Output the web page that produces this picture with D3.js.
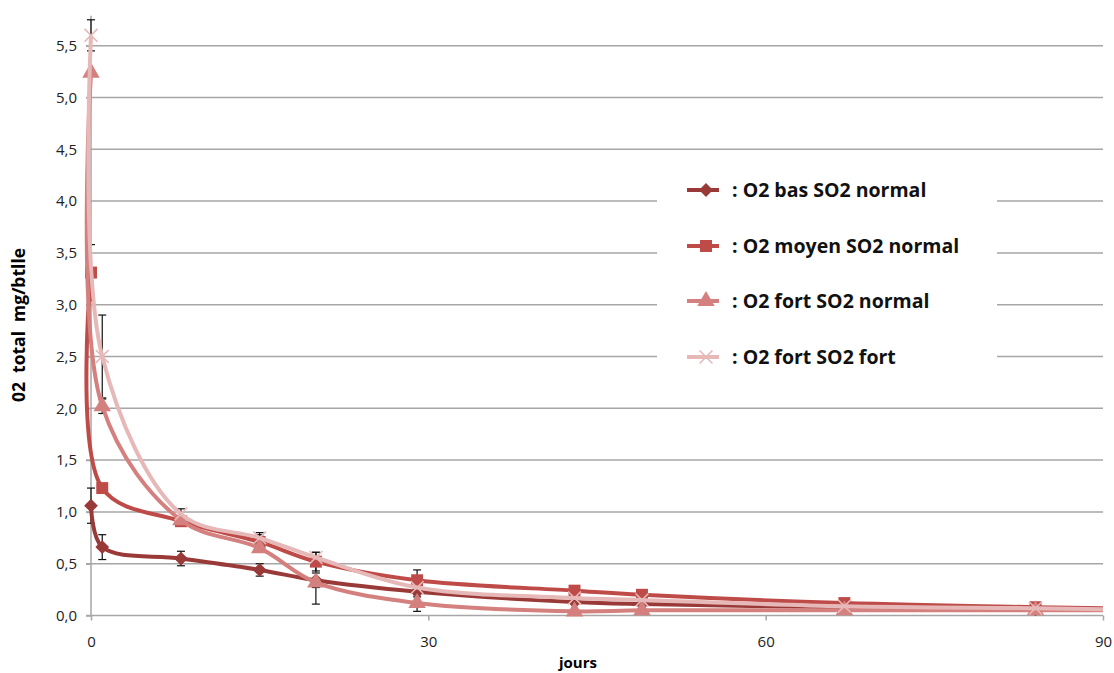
<!DOCTYPE html>
<html>
<head>
<meta charset="utf-8">
<script src="https://cdn.jsdelivr.net/npm/d3@7"></script>
<style>
  body { margin: 0; background: #fff; }
  text { font-family: "Open Sans", "Liberation Sans", sans-serif; }
</style>
</head>
<body>
<script>
const WIDTH = 1114
const HEIGHT = 673

// jours de mesure (le dernier point = bord droit, sans marqueur)
const jours = [0, 1, 8, 15, 20, 29, 43, 49, 67, 84, 90]

const seriesNames = [": O2 bas SO2 normal", ": O2 moyen SO2 normal", ": O2 fort SO2 normal", ": O2 fort SO2 fort"]
const seriesColors = ["#9a3a38", "#bf4b48", "#d4807e", "#e6b8b7"]
const seriesSymbols = ["diamond", "square", "triangle", "cross"]

const o2Bas    = [1.06, 0.66, 0.55, 0.44, 0.34, 0.23, 0.13, 0.11, 0.08, 0.06, 0.06]
const o2Moyen  = [3.31, 1.23, 0.91, 0.71, 0.52, 0.34, 0.24, 0.20, 0.12, 0.08, 0.07]
const o2Fort   = [5.24, 2.02, 0.92, 0.65, 0.32, 0.12, 0.04, 0.05, 0.05, 0.05, 0.05]
const o2FortSO2 = [5.60, 2.50, 0.98, 0.75, 0.56, 0.27, 0.17, 0.15, 0.09, 0.07, 0.06]

// écarts (barres d'erreur), 0 = pas visible
const errBas    = [0.17, 0.12, 0.07, 0.06, 0.07, 0.05, 0, 0, 0, 0, 0]
const errMoyen  = [0.27, 0, 0.05, 0.07, 0.09, 0.10, 0, 0, 0, 0, 0]
const errFort   = [0, 0.07, 0, 0, 0.21, 0.08, 0, 0, 0, 0, 0]
const errFortSO2 = [0.15, 0.40, 0.05, 0.05, 0.05, 0, 0, 0, 0, 0, 0]

const yTicks = [0, 0.5, 1, 1.5, 2, 2.5, 3, 3.5, 4, 4.5, 5, 5.5]
const xTicks = [0, 30, 60, 90]

const allValues = [o2Bas, o2Moyen, o2Fort, o2FortSO2]
const allErrors = [errBas, errMoyen, errFort, errFortSO2]

const x = d3.scaleLinear().domain([0, 90]).range([91, 1103])
const y = d3.scaleLinear().domain([0, 5.8]).range([615.5, 14.6])
const fr = d3.formatLocale({decimal: ",", thousands: " ", grouping: [3], currency: ["", "€"]}).format(".1f")

const svg = d3.select("body")
    .append("svg")
    .attr("width", WIDTH)
    .attr("height", HEIGHT)

// grille horizontale
svg.append("g")
    .selectAll("line")
    .data(yTicks.filter(d => d > 0))
    .enter()
    .append("line")
    .attr("x1", 86)
    .attr("x2", x(90))
    .attr("y1", d => y(d))
    .attr("y2", d => y(d))
    .attr("stroke", "#a6a6a6")
    .attr("stroke-width", 1.5)

// axe Y
const yAxis = svg.append("g")
    .attr("transform", `translate(${x(0)},0)`)
    .call(d3.axisLeft(y).tickValues(yTicks).tickSize(5).tickPadding(5).tickFormat(fr))
yAxis.select(".domain").remove()
yAxis.selectAll("line").attr("stroke", "#a6a6a6").attr("stroke-width", 1.5)
yAxis.selectAll("text").attr("font-size", 15).attr("fill", "#222").attr("x", -14)
svg.append("line")
    .attr("x1", x(0)).attr("x2", x(0))
    .attr("y1", y(5.79)).attr("y2", y(0))
    .attr("stroke", "#a6a6a6").attr("stroke-width", 1.5)

// axe X
const xAxis = svg.append("g")
    .attr("transform", `translate(0,${y(0)})`)
    .call(d3.axisBottom(x).tickValues(xTicks).tickSize(5).tickPadding(16))
xAxis.select(".domain").remove()
xAxis.selectAll("line").attr("stroke", "#a6a6a6").attr("stroke-width", 1.5)
xAxis.selectAll("text").attr("font-size", 15).attr("fill", "#222")
svg.append("line")
    .attr("x1", 86).attr("x2", x(90))
    .attr("y1", y(0)).attr("y2", y(0))
    .attr("stroke", "#a6a6a6").attr("stroke-width", 1.5)

// titres des axes
svg.append("text")
    .text("02  total  mg/btlle")
    .attr("transform", "translate(25,325) rotate(-90)")
    .attr("text-anchor", "middle")
    .attr("font-size", 17.5)
    .attr("font-weight", "bold")
    .style("white-space", "pre")
svg.append("text")
    .text("jours")
    .attr("x", 578)
    .attr("y", 668)
    .attr("text-anchor", "middle")
    .attr("font-size", 15)
    .attr("font-weight", "bold")

// barres d'erreur
const errG = svg.append("g")
allValues.forEach((vals, s) => {
    const pts = jours.map((j, i) => ({j: j, v: vals[i], e: allErrors[s][i]})).filter(d => d.e > 0)
    const g = errG.selectAll(null).data(pts).enter().append("g")
    g.append("line")
        .attr("x1", d => x(d.j)).attr("x2", d => x(d.j))
        .attr("y1", d => y(d.v + d.e)).attr("y2", d => y(d.v - d.e))
        .attr("stroke", "#111").attr("stroke-width", 1.2)
    g.append("line")
        .attr("x1", d => x(d.j) - 4).attr("x2", d => x(d.j) + 4)
        .attr("y1", d => y(d.v + d.e)).attr("y2", d => y(d.v + d.e))
        .attr("stroke", "#111").attr("stroke-width", 1.2)
    g.append("line")
        .attr("x1", d => x(d.j) - 4).attr("x2", d => x(d.j) + 4)
        .attr("y1", d => y(d.v - d.e)).attr("y2", d => y(d.v - d.e))
        .attr("stroke", "#111").attr("stroke-width", 1.2)
})

// courbes lissées
const line = d3.line()
    .x(d => x(d[0]))
    .y(d => y(d[1]))
    .curve(d3.curveCatmullRom.alpha(0.5))

const symbolPath = (kind, size) => {
    if (kind == "diamond") return d3.symbol(d3.symbolDiamond2, size * 1.1)()
    if (kind == "square") return d3.symbol(d3.symbolSquare, size * 1.3)()
    if (kind == "triangle") return d3.symbol(d3.symbolTriangle, size * 1.2)()
    return d3.symbol(d3.symbolTimes, size)()
}

const drawMarker = (sel, s) => {
    const p = sel.append("path")
        .attr("d", symbolPath(seriesSymbols[s], 110))
    if (seriesSymbols[s] == "cross") {
        p.attr("fill", "none").attr("stroke", seriesColors[s]).attr("stroke-width", 1.6)
    } else {
        p.attr("fill", seriesColors[s]).attr("stroke", "none")
    }
}

// ordre de dessin : la plus claire en dernier
allValues.forEach((vals, s) => {
    const g = svg.append("g")
    g.append("path")
        .datum(jours.map((j, i) => [j, vals[i]]))
        .attr("d", line)
        .attr("fill", "none")
        .attr("stroke", seriesColors[s])
        .attr("stroke-width", 4)
        .attr("stroke-linejoin", "round")
    g.selectAll("g")
        .data(jours.slice(0, jours.length - 1).map((j, i) => [j, vals[i]]))
        .enter()
        .append("g")
        .attr("transform", d => `translate(${x(d[0])},${y(d[1])})`)
        .each(function () { drawMarker(d3.select(this), s) })
})

// légende
const legend = svg.append("g")
legend.append("rect")
    .attr("x", 657).attr("y", 165)
    .attr("width", 340).attr("height", 215)
    .attr("fill", "#fff")
const legendY = [190, 246, 301, 357]
seriesNames.forEach((name, s) => {
    const row = legend.append("g").attr("transform", `translate(687,${legendY[s]})`)
    row.append("line")
        .attr("x1", 0).attr("x2", 32)
        .attr("stroke", seriesColors[s]).attr("stroke-width", 4)
    const m = row.append("g").attr("transform", "translate(19,0)")
    drawMarker(m, s)
    row.append("text")
        .text(name)
        .attr("x", 45)
        .attr("y", 7)
        .attr("font-size", 19.5)
        .attr("font-weight", "bold")
        .attr("fill", "#111")
})
</script>
</body>
</html>
